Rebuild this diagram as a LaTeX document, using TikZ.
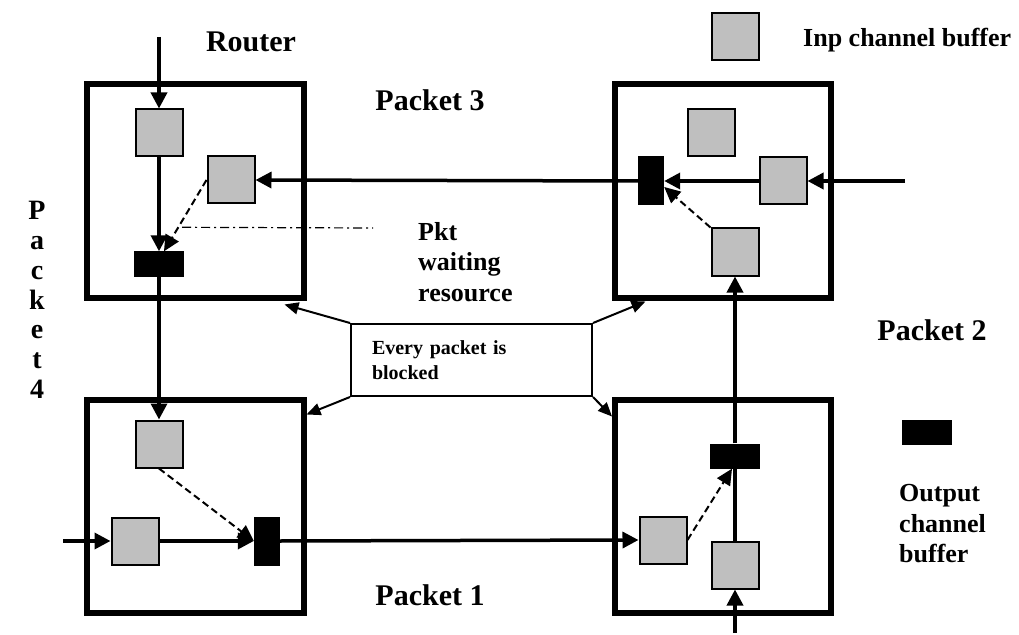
\documentclass[tikz,border=0pt]{standalone}
\usepackage{fontspec}
\setmainfont{Liberation Serif}
\usetikzlibrary{arrows.meta,calc}

\tikzset{
  router/.style={draw, line width=6bp, minimum width=216bp, minimum height=213bp, inner sep=0pt},
  ibuf/.style={draw, line width=2bp, fill=black!25, minimum size=47bp, inner sep=0pt},
  obufh/.style={fill=black, minimum width=50bp, minimum height=25bp, inner sep=0pt},
  obufv/.style={fill=black, minimum width=26bp, minimum height=49bp, inner sep=0pt},
  flow/.style={line width=3.5bp, -{Triangle[length=16bp,width=16bp]}},
  link/.style={line width=3.5bp},
  dep/.style={line width=2bp, dash pattern=on 7bp off 4bp, -{Triangle[length=16bp,width=15bp]}},
  thinarrow/.style={line width=2bp, -{Triangle[length=14bp,width=12bp]}},
  big/.style={font=\fontsize{30bp}{34bp}\selectfont\bfseries, inner sep=0pt},
  mid/.style={font=\fontsize{26bp}{30.5bp}\selectfont\bfseries, inner sep=0pt, align=left},
}

\begin{document}
\begin{tikzpicture}[x=1bp, y=-1bp]
  \fill[white] (0,0) rectangle (1019,635);
  \useasboundingbox (0,0) rectangle (1019,635);

  % routers
  \node[router] (TL) at (195.5,191) {};
  \node[router] (TR) at (722.5,191) {};
  \node[router] (BL) at (195.5,506) {};
  \node[router] (BR) at (723,506) {};

  % buffers of the top-left router
  \node[ibuf]  (TLa) at (159,133) {};
  \node[ibuf]  (TLb) at (231,180) {};
  \node[obufh] (TLo) at (159,264) {};

  % buffers of the top-right router
  \node[ibuf]  (TRt) at (711,133) {};
  \node[ibuf]  (TRr) at (783,181) {};
  \node[obufv] (TRo) at (651,181) {};
  \node[ibuf]  (TRb) at (735,252) {};

  % buffers of the bottom-left router
  \node[ibuf]  (BLt) at (159,444) {};
  \node[ibuf]  (BLl) at (135,541) {};
  \node[obufv] (BLo) at (267,541) {};

  % buffers of the bottom-right router
  \node[obufh] (BRo) at (735,456) {};
  \node[ibuf]  (BRl) at (663,540) {};
  \node[ibuf]  (BRb) at (735,565) {};

  % free ends of the injection channels
  \coordinate (tlin) at (159,37);
  \coordinate (trin) at (905,181);
  \coordinate (blin) at (63,541);
  \coordinate (brin) at (735,633);

  % packet paths
  \draw[flow] (tlin) -- (TLa.north);
  \draw[flow] (TLa.south) -- (TLo.north);
  \draw[flow] (TLo.south) -- (BLt.north);
  \draw[dep]  (TLb.west) -- ($(TLo.north)+(5,0)$);

  \draw[flow] (trin) -- (TRr.east);
  \draw[flow] (TRr.west) -- (TRo.east);
  \draw[flow] (TRo.west) -- (TLb.east);
  \draw[dep]  (TRb.north west) -- ($(TRo.east)+(0,6)$);

  \draw[flow] (BRo.north) -- (TRb.south);
  \draw[link] (BRb.north) -- (BRo.south);
  \draw[dep]  (BRl.east) -- ($(BRo.south)+(-3,0)$);
  \draw[flow] (brin) -- (BRb.south);

  \draw[flow] (blin) -- (BLl.west);
  \draw[flow] (BLl.east) -- (BLo.west);
  \draw[dep]  (BLt.south) -- (BLo.west);
  \draw[flow] (BLo.east) -- (BRl.west);

  % redraw the buffers above the paths
  \node[obufh] at (TLo) {};
  \node[obufv] at (TRo) {};
  \node[obufv] at (BLo) {};
  \node[obufh] at (BRo) {};

  % waiting resource marker
  \draw[line width=1.2bp, dash pattern=on 9bp off 4bp on 2bp off 4bp]
    ($(TLo.north)+(23,-24)$) coordinate (wa) -- (373,228) coordinate (wb);
  \node[mid, anchor=west] (wait) at (418,262) {Pkt\\waiting\\resource};

  % deadlock note
  \node[draw, line width=2bp, minimum width=241bp, minimum height=72bp,
        text width=199bp, inner xsep=21bp, inner ysep=0pt, align=left,
        font=\fontsize{20bp}{25bp}\selectfont\bfseries] (blk) at (471.5,360)
        {Every packet is\\blocked};
  \draw[thinarrow] (blk.north west) -- ($(TL.south east)+(-22,4)$);
  \draw[thinarrow] (blk.north east) -- ($(TR.south west)+(34,1)$);
  \draw[thinarrow] (blk.south west) -- ($(BL.north east)+(0,18)$);
  \draw[thinarrow] (blk.south east) -- ($(BR.north west)+(0,20)$);

  % labels
  \node[big] (router) at (251,42) {Router};
  \node[big] (p3) at (430,100) {Packet 3};
  \node[big] (p2) at (932,330) {Packet 2};
  \node[big] (p1) at (430,595) {Packet 1};
  \node[font=\fontsize{28bp}{29.8bp}\selectfont\bfseries, inner sep=0pt, align=center]
    (p4) at (37,300) {P\\a\\c\\k\\e\\t\\4};

  % legend
  \node[ibuf] (lgin) at (735,37) {};
  \node[mid, anchor=west] (lgintext) at (803,40) {Inp channel buffer};
  \node[obufh] (lgout) at (927,432) {};
  \node[mid, anchor=west] (lgouttext) at (899,524) {Output\\channel\\buffer};
\end{tikzpicture}
\end{document}
